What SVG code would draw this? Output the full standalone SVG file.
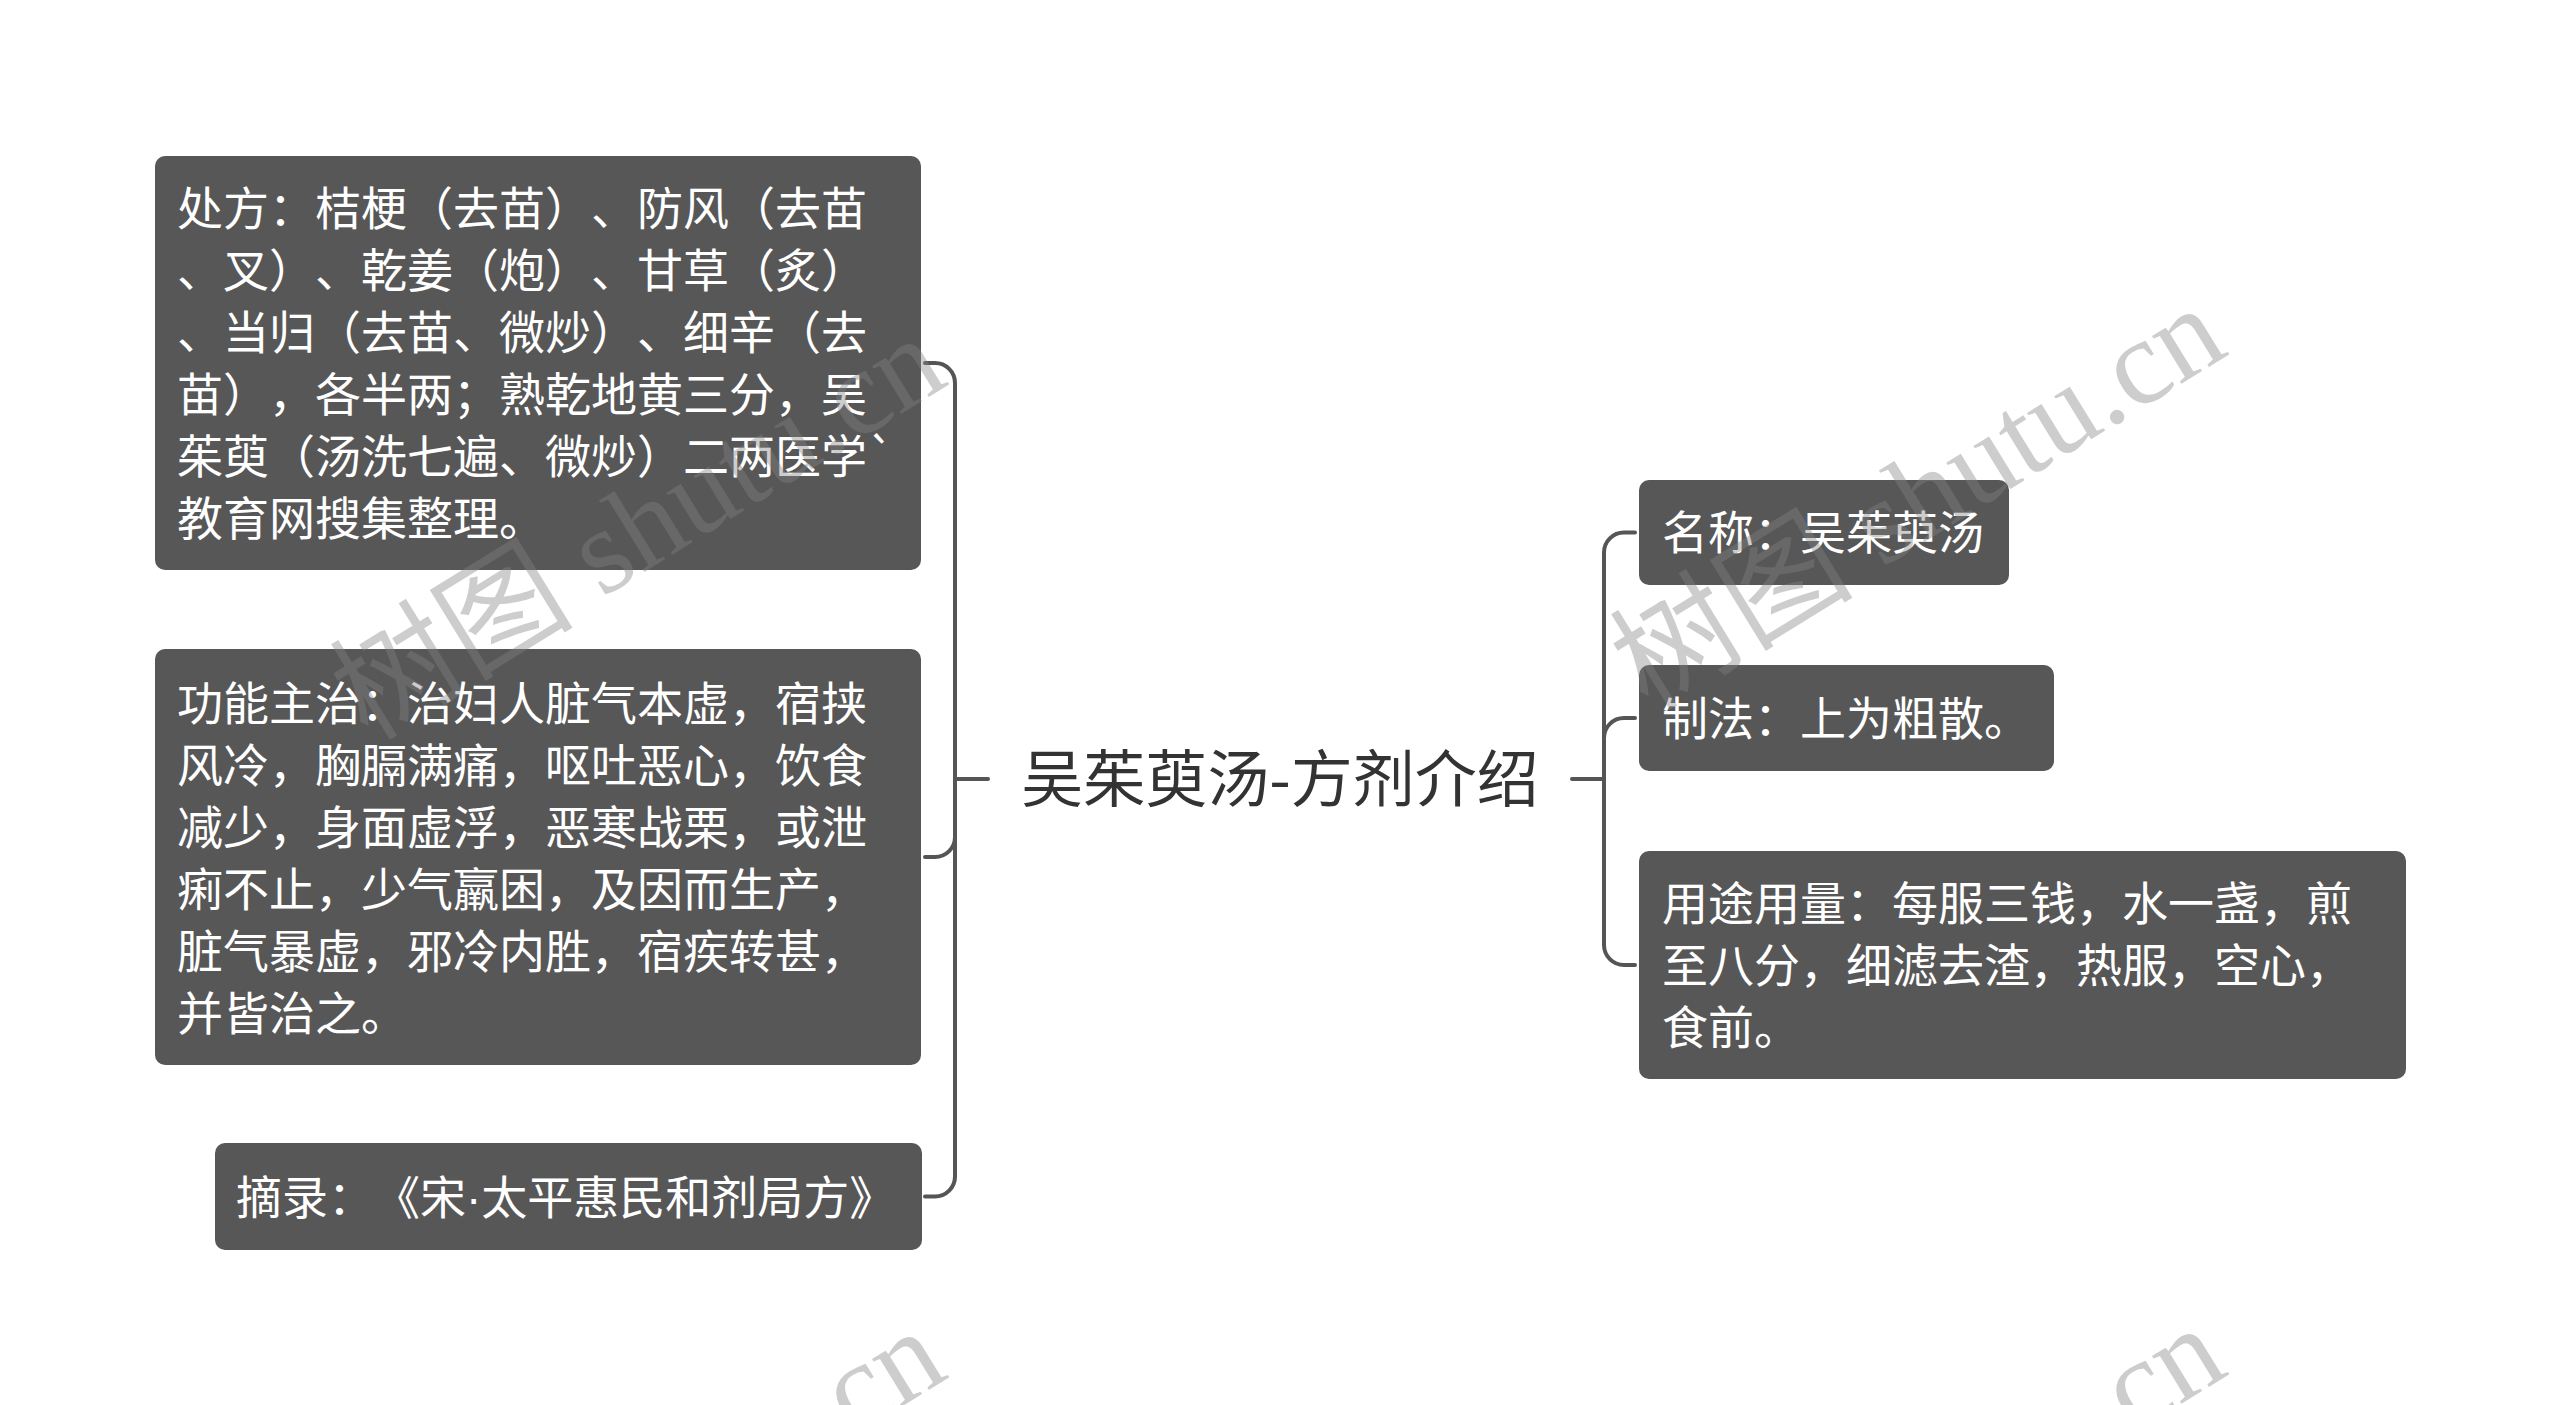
<svg xmlns="http://www.w3.org/2000/svg" width="2560" height="1405" viewBox="0 0 2560 1405">
<style>
.node rect{fill:#575757;}
.node text{fill:#ffffff;font-family:"Noto Sans CJK SC","Noto Sans",sans-serif;font-size:46px;text-spacing-trim:space-all;font-feature-settings:"chws" 0,"halt" 0;}
.conn path{fill:none;stroke:#555555;stroke-width:4;stroke-linecap:round;}
.root text{fill:#333333;font-family:"Noto Sans CJK SC","Noto Sans",sans-serif;font-size:62px;}
.wm text{fill:#838383;fill-opacity:0.4;font-family:"Liberation Serif","Noto Sans CJK SC",serif;font-size:122px;}
.dot{font-family:"Liberation Sans",sans-serif;}
</style>
<rect width="2560" height="1405" fill="#ffffff"/>
<g id="connectors" class="conn">
<path d="M988,779 H955"/>
<path d="M955,779 V383 A20,20 0 0 0 935,363 H925"/>
<path d="M955,779 V837 A20,20 0 0 1 935,857 H925"/>
<path d="M955,779 V1176.5 A20,20 0 0 1 935,1196.5 H925"/>
<path d="M1572,779 H1604"/>
<path d="M1604,779 V552.5 A20,20 0 0 1 1624,532.5 H1635"/>
<path d="M1604,779 V738 A20,20 0 0 1 1624,718 H1635"/>
<path d="M1604,779 V945 A20,20 0 0 0 1624,965 H1635"/>
</g>
<g id="root" class="root">
<text x="1280" y="802" text-anchor="middle">吴茱萸汤-方剂介绍</text>
</g>
<g id="node-chufang" class="node">
<rect x="155" y="156" width="766" height="414" rx="10"/>
<text><tspan x="177" y="225">处方：桔梗（去苗）、防风（去苗</tspan><tspan x="177" y="287">、叉）、乾姜（炮）、甘草（炙）</tspan><tspan x="177" y="349">、当归（去苗、微炒）、细辛（去</tspan><tspan x="177" y="411">苗），各半两；熟乾地黄三分，吴</tspan><tspan x="177" y="473">茱萸（汤洗七遍、微炒）二两医学`</tspan><tspan x="177" y="535">教育网搜集整理。</tspan></text>
</g>
<g id="node-gongneng" class="node">
<rect x="155" y="649" width="766" height="416" rx="10"/>
<text><tspan x="177" y="720">功能主治：治妇人脏气本虚，宿挟</tspan><tspan x="177" y="782">风冷，胸膈满痛，呕吐恶心，饮食</tspan><tspan x="177" y="844">减少，身面虚浮，恶寒战栗，或泄</tspan><tspan x="177" y="906">痢不止，少气羸困，及因而生产，</tspan><tspan x="177" y="968">脏气暴虚，邪冷内胜，宿疾转甚，</tspan><tspan x="177" y="1030">并皆治之。</tspan></text>
</g>
<g id="node-zhailu" class="node">
<rect x="215" y="1143" width="707" height="107" rx="10"/>
<text x="236" y="1214">摘录：《宋<tspan class="dot">·</tspan>太平惠民和剂局方》</text>
</g>
<g id="node-mingcheng" class="node">
<rect x="1639" y="480" width="370" height="105" rx="10"/>
<text x="1662" y="549">名称：吴茱萸汤</text>
</g>
<g id="node-zhifa" class="node">
<rect x="1639" y="665" width="415" height="106" rx="10"/>
<text x="1662" y="735">制法：上为粗散。</text>
</g>
<g id="node-yongtu" class="node">
<rect x="1639" y="851" width="767" height="228" rx="10"/>
<text><tspan x="1662" y="920">用途用量：每服三钱，水一盏，煎</tspan><tspan x="1662" y="982">至八分，细滤去渣，热服，空心，</tspan><tspan x="1662" y="1044">食前。</tspan></text>
</g>
<g id="watermarks" class="wm">
<text transform="translate(368,742) rotate(-31.6)">树图 shutu.cn</text>
<text transform="translate(1648,712) rotate(-31.6)">树图 shutu.cn</text>
<text transform="translate(368,1735) rotate(-31.6)">树图 shutu.cn</text>
<text transform="translate(1648,1732) rotate(-31.6)">树图 shutu.cn</text>
</g>
</svg>
